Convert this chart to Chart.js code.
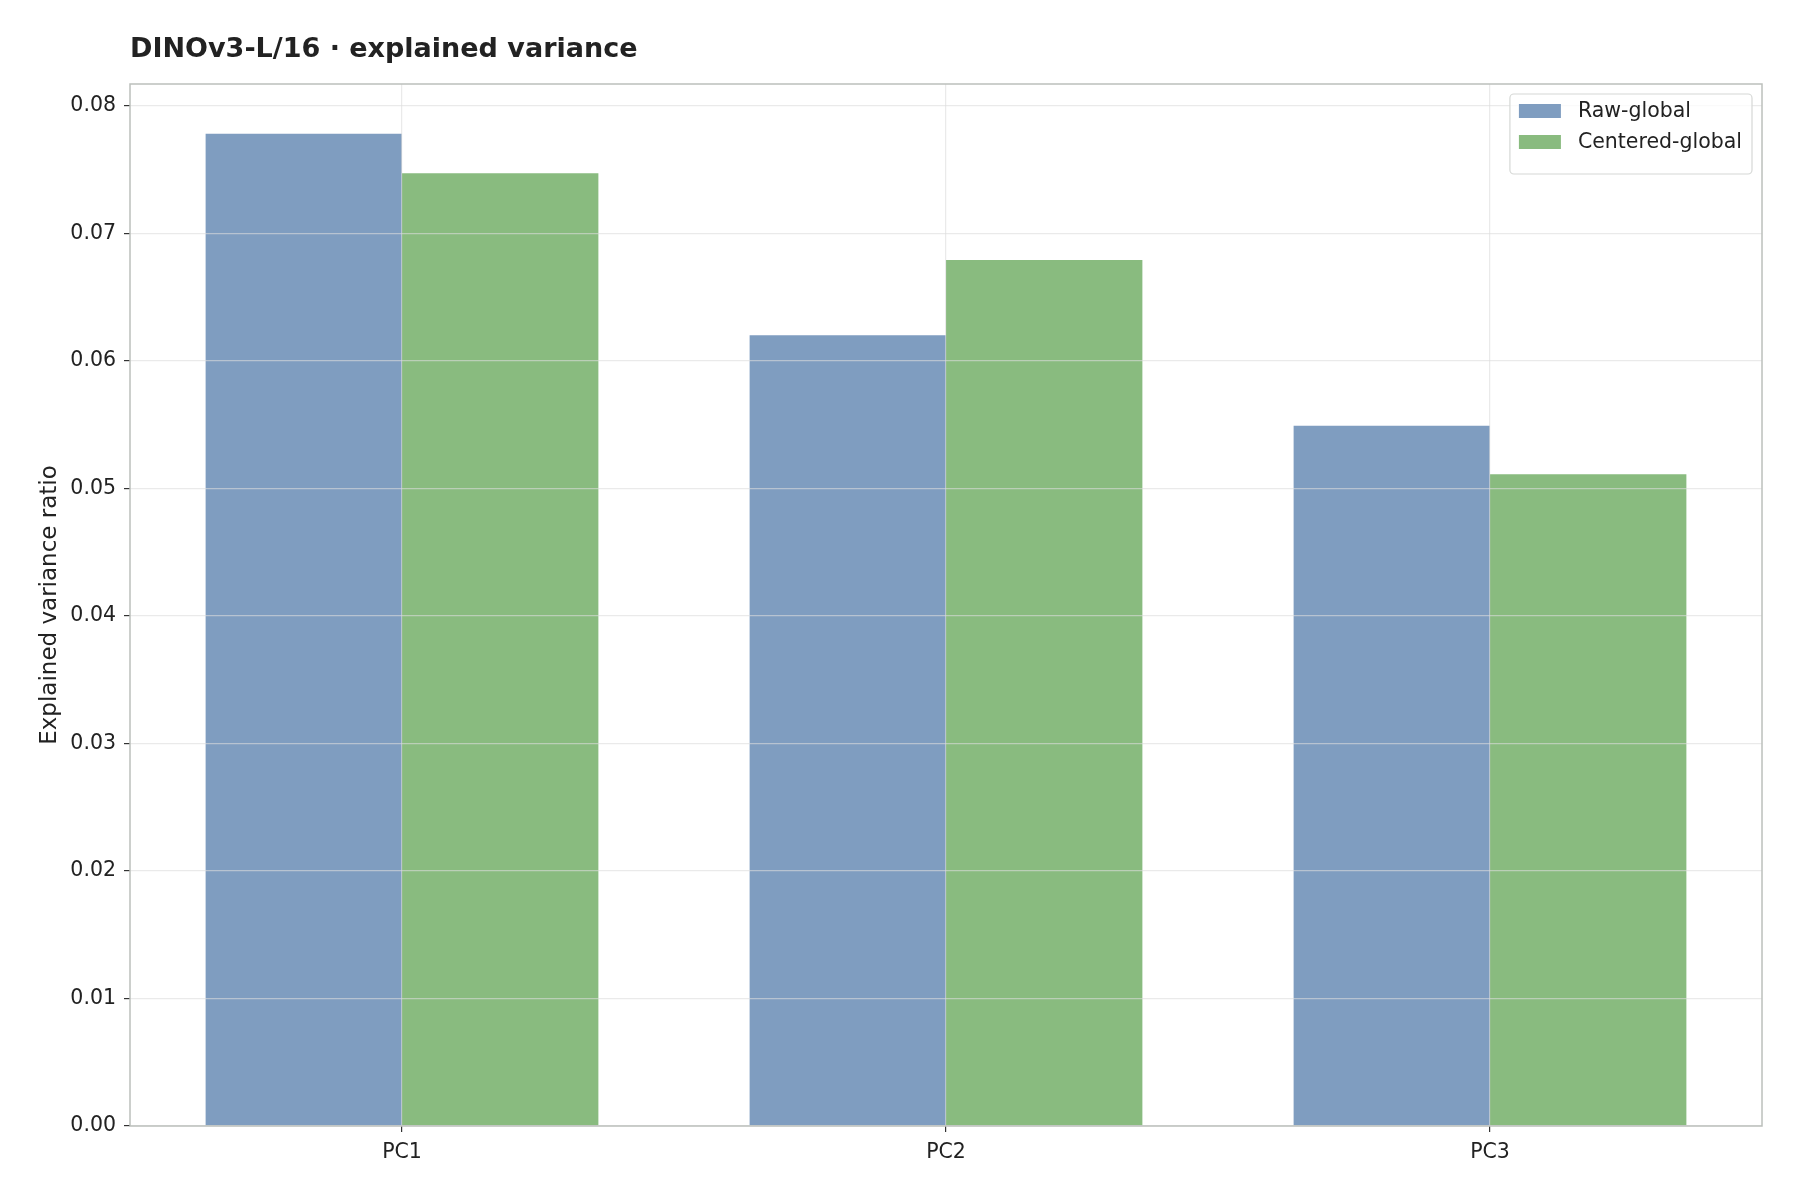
<!DOCTYPE html>
<html>
<head>
<meta charset="utf-8">
<script src="https://cdn.jsdelivr.net/npm/chart.js@4"></script>
<style>
  body { margin: 0; background: #fff; }
</style>
</head>
<body>
<canvas id="chart" width="1800" height="1200"></canvas>
<script>
// values
const componentes = ["PC1", "PC2", "PC3"];
const rawGlobal = [0.0778, 0.0620, 0.0549];
const centeredGlobal = [0.0747, 0.0679, 0.0511];
const yTicks = [0, 0.01, 0.02, 0.03, 0.04, 0.05, 0.06, 0.07, 0.08];
const yMax = 0.0817;

const fonte = "'DejaVu Sans', sans-serif";
const corFrame = "#bcc0bc";
const corGrid = "rgba(220, 220, 220, 0.6)";

// frame on four sides + legend inside the plot, top right
const molduraLegenda = {
  id: "molduraLegenda",
  afterDraw(chart) {
    const ctx = chart.ctx;
    const a = chart.chartArea;
    ctx.save();
    ctx.strokeStyle = corFrame;
    ctx.lineWidth = 1.5;
    ctx.strokeRect(a.left, a.top, a.right - a.left, a.bottom - a.top);

    const ds = chart.data.datasets;
    ctx.font = "20.5px " + fonte;
    let maxW = 0;
    ds.forEach(d => { maxW = Math.max(maxW, ctx.measureText(d.label).width); });
    const w = 9 + 42 + 17 + maxW + 10;
    const h = 12 + ds.length * 31 + 6;
    const x = a.right - 10 - w;
    const y = a.top + 10;
    ctx.beginPath();
    ctx.roundRect(x, y, w, h, 4);
    ctx.fillStyle = "rgba(255,255,255,0.8)";
    ctx.fill();
    ctx.strokeStyle = "#d6d8d6";
    ctx.lineWidth = 1.2;
    ctx.stroke();
    ctx.textBaseline = "middle";
    ds.forEach((d, i) => {
      const cy = y + 17 + i * 31;
      ctx.fillStyle = d.backgroundColor;
      ctx.fillRect(x + 9, cy - 7, 42, 14);
      ctx.fillStyle = "#222";
      ctx.fillText(d.label, x + 9 + 42 + 17, cy + 1);
    });
    ctx.restore();
  }
};

new Chart(document.getElementById("chart"), {
  type: "bar",
  data: {
    labels: componentes,
    datasets: [
      {
        label: "Raw-global",
        data: rawGlobal,
        backgroundColor: "#7f9dc0",
        borderWidth: 0,
        categoryPercentage: 0.722,
        barPercentage: 1.0
      },
      {
        label: "Centered-global",
        data: centeredGlobal,
        backgroundColor: "#89bb7f",
        borderWidth: 0,
        categoryPercentage: 0.722,
        barPercentage: 1.0
      }
    ]
  },
  options: {
    responsive: false,
    devicePixelRatio: 1,
    animation: false,
    layout: { padding: { left: 0, right: 38, top: 0, bottom: 0 } },
    plugins: {
      legend: { display: false },
      tooltip: { enabled: false },
      title: {
        display: true,
        text: "DINOv3-L/16 · explained variance",
        align: "start",
        fullSize: false,
        color: "#222",
        font: { family: fonte, size: 27, weight: "bold", lineHeight: 1.2 },
        padding: { top: 34, bottom: 17.6 }
      }
    },
    scales: {
      x: {
        offset: true,
        grid: {
          offset: false,
          z: 1,
          color: corGrid,
          lineWidth: 1.2,
          drawTicks: true,
          tickLength: 6,
          tickColor: "#333",
          tickWidth: 1.2
        },
        border: { display: false },
        ticks: {
          color: "#222",
          padding: 8,
          font: { family: fonte, size: 20.5 }
        },
        afterFit(scale) { scale.height = 74; }
      },
      y: {
        min: 0,
        max: yMax,
        grid: {
          z: 1,
          color: corGrid,
          lineWidth: 1.2,
          drawTicks: true,
          tickLength: 6,
          tickColor: "#333",
          tickWidth: 1.2
        },
        border: { display: false },
        afterBuildTicks(scale) {
          scale.ticks = yTicks.map(v => ({ value: v }));
        },
        ticks: {
          color: "#222",
          padding: 8,
          font: { family: fonte, size: 20.5 },
          callback: v => Number(v).toFixed(2)
        },
        title: {
          display: true,
          text: "Explained variance ratio",
          color: "#222",
          font: { family: fonte, size: 23, lineHeight: 1.2 },
          padding: { top: 36, bottom: 0 }
        },
        afterFit(scale) { scale.width = 130; }
      }
    }
  },
  plugins: [molduraLegenda]
});
</script>
</body>
</html>
